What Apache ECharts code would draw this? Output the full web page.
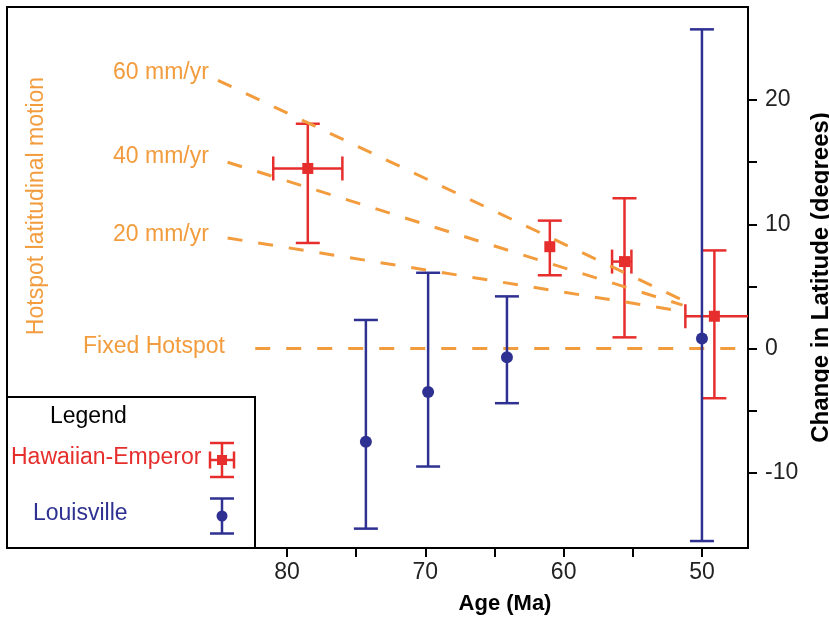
<!DOCTYPE html>
<html>
<head>
<meta charset="utf-8">
<script src="https://cdn.jsdelivr.net/npm/echarts@6/dist/echarts.min.js"></script>
<style>
  html, body { margin: 0; padding: 0; background: #fff; }
  #chart { width: 829px; height: 622px; }
</style>
</head>
<body>
<div id="chart"></div>
<script>
// Hawaiian-Emperor (red squares, x and y error bars)
const heAge = [78.5, 61.0, 55.6, 49.1];
const heLat = [14.5, 8.2, 7.0, 2.6];
const heAgeOld = [81.0, 61.0, 56.5, 51.2];
const heAgeYoung = [76.0, 61.0, 55.1, 46.0];
const heLatLow = [8.5, 5.9, 0.9, -4.0];
const heLatHigh = [18.1, 10.3, 12.1, 7.9];

// Louisville (blue circles, y error bars)
const lvAge = [74.3, 69.8, 64.1, 50.0];
const lvLat = [-7.5, -3.5, -0.7, 0.8];
const lvLatLow = [-14.5, -9.5, -4.4, -15.5];
const lvLatHigh = [2.3, 6.1, 4.2, 25.7];

// hotspot motion guide lines: [start age, start lat, end age, end lat]
const rateNames = ['60 mm/yr', '40 mm/yr', '20 mm/yr', 'Fixed Hotspot'];
const rateLines = [
  [85.0, 21.6, 51.4, 3.9],
  [84.3, 15.0, 51.4, 3.5],
  [84.3, 8.9, 51.4, 3.0],
  [82.3, 0, 46.67, 0]
];

const xTicks = [80, 75, 70, 65, 60, 55, 50];
const xLabels = [80, 70, 60, 50];
const yTicks = [-10, -5, 0, 5, 10, 15, 20];
const yLabels = [-10, 0, 10, 20];

const RED = '#E62E2D';
const BLUE = '#2E3192';
const ORANGE = '#F29C3D';
const FONT = '"Liberation Sans", Arial, sans-serif';

function errorBars(color, marker) {
  return function (params, api) {
    const cs = params.coordSys;
    const left = cs.x, right = cs.x + cs.width;
    const c = api.coord([api.value(0), api.value(1)]);
    const top = api.coord([api.value(0), api.value(5)])[1];
    const bot = api.coord([api.value(0), api.value(4)])[1];
    const cap = 12;
    const st = { stroke: color, lineWidth: 2.5 };
    const kids = [
      { type: 'line', shape: { x1: c[0], y1: top, x2: c[0], y2: bot }, style: st },
      { type: 'line', shape: { x1: c[0] - cap, y1: top, x2: c[0] + cap, y2: top }, style: st },
      { type: 'line', shape: { x1: c[0] - cap, y1: bot, x2: c[0] + cap, y2: bot }, style: st }
    ];
    const xOld = api.value(2), xYoung = api.value(3);
    if (xOld !== xYoung) {
      const xl = api.coord([xOld, api.value(1)])[0];
      const xr = api.coord([xYoung, api.value(1)])[0];
      kids.push({ type: 'line', shape: { x1: Math.max(xl, left), y1: c[1], x2: Math.min(xr, right), y2: c[1] }, style: st });
      if (xl >= left) kids.push({ type: 'line', shape: { x1: xl, y1: c[1] - cap, x2: xl, y2: c[1] + cap }, style: st });
      if (xr <= right) kids.push({ type: 'line', shape: { x1: xr, y1: c[1] - cap, x2: xr, y2: c[1] + cap }, style: st });
    }
    if (marker === 'square') {
      kids.push({ type: 'rect', shape: { x: c[0] - 5.5, y: c[1] - 5.5, width: 11, height: 11 }, style: { fill: color } });
    } else {
      kids.push({ type: 'circle', shape: { cx: c[0], cy: c[1], r: 6 }, style: { fill: color } });
    }
    return { type: 'group', children: kids };
  };
}

function text(str, x, y, color, opts) {
  return Object.assign({
    type: 'text', x: x, y: y, z: 20,
    style: {
      text: str, fill: color, font: '23px ' + FONT,
      textAlign: 'left', textVerticalAlign: 'middle'
    }
  }, opts || {});
}

function iconLines(cx, cy, color, withX) {
  const st = { stroke: color, lineWidth: 2.5 };
  const h = withX ? 17 : 17.5;
  const els = [
    { type: 'line', z: 21, shape: { x1: cx, y1: cy - h, x2: cx, y2: cy + h }, style: st },
    { type: 'line', z: 21, shape: { x1: cx - 12, y1: cy - h, x2: cx + 12, y2: cy - h }, style: st },
    { type: 'line', z: 21, shape: { x1: cx - 12, y1: cy + h, x2: cx + 12, y2: cy + h }, style: st }
  ];
  if (withX) {
    els.push({ type: 'line', z: 21, shape: { x1: cx - 12, y1: cy, x2: cx + 12, y2: cy }, style: st });
    els.push({ type: 'line', z: 21, shape: { x1: cx - 12, y1: cy - 8.5, x2: cx - 12, y2: cy + 8.5 }, style: st });
    els.push({ type: 'line', z: 21, shape: { x1: cx + 12, y1: cy - 8.5, x2: cx + 12, y2: cy + 8.5 }, style: st });
    els.push({ type: 'rect', z: 21, shape: { x: cx - 5, y: cy - 5, width: 10, height: 10 }, style: { fill: color } });
  } else {
    els.push({ type: 'circle', z: 21, shape: { cx: cx, cy: cy, r: 5.5 }, style: { fill: color } });
  }
  return els;
}

const chart = echarts.init(document.getElementById('chart'));

const lineSeries = rateLines.map(function (l, i) {
  return {
    name: rateNames[i],
    type: 'line',
    z: 3,
    symbol: 'none',
    silent: true,
    data: [[l[0], l[1]], [l[2], l[3]]],
    lineStyle: { color: ORANGE, width: 3, type: [15, 16] }
  };
});

chart.setOption({
  animation: false,
  grid: {
    left: 7, right: 81, top: 7, bottom: 74,
    outerBoundsMode: 'none',
    containLabel: false,
    show: true, borderColor: '#000', borderWidth: 2
  },
  xAxis: {
    type: 'value',
    inverse: true,
    min: 46.67,
    max: 100.25,
    axisLine: { onZero: false, lineStyle: { color: '#000', width: 2 } },
    axisTick: { customValues: xTicks, length: 9, lineStyle: { color: '#000', width: 2 } },
    axisLabel: { customValues: xLabels, margin: 13, color: '#222', fontSize: 23, fontFamily: FONT },
    splitLine: { show: false }
  },
  yAxis: {
    type: 'value',
    position: 'right',
    min: -16.06,
    max: 27.5,
    name: 'Change in Latitude (degrees)',
    nameLocation: 'middle',
    nameRotate: 90,
    nameGap: 51,
    nameTextStyle: { color: '#000', fontSize: 24, fontWeight: 'bold', fontFamily: FONT },
    axisLine: { onZero: false, lineStyle: { color: '#000', width: 2 } },
    axisTick: { customValues: yTicks, length: 9, lineStyle: { color: '#000', width: 2 } },
    axisLabel: { customValues: yLabels, margin: 17, color: '#222', fontSize: 23, fontFamily: FONT },
    splitLine: { show: false }
  },
  series: [
    {
      name: 'Hawaiian-Emperor',
      type: 'custom',
      z: 2,
      renderItem: errorBars(RED, 'square'),
      encode: { x: 0, y: 1 },
      data: heAge.map(function (a, i) {
        return [a, heLat[i], heAgeOld[i], heAgeYoung[i], heLatLow[i], heLatHigh[i]];
      })
    }
  ].concat(lineSeries).concat([
    {
      name: 'Louisville',
      type: 'custom',
      z: 4,
      renderItem: errorBars(BLUE, 'circle'),
      encode: { x: 0, y: 1 },
      data: lvAge.map(function (a, i) {
        return [a, lvLat[i], a, a, lvLatLow[i], lvLatHigh[i]];
      })
    }
  ]),
  graphic: [
    text('Age (Ma)', 505, 604, '#000', {
      style: { text: 'Age (Ma)', fill: '#000', font: 'bold 22px ' + FONT, textAlign: 'center', textVerticalAlign: 'middle' }
    }),
    text('Hotspot latitudinal motion', 37, 206, ORANGE, {
      rotation: Math.PI / 2,
      style: { text: 'Hotspot latitudinal motion', fill: ORANGE, font: '23px ' + FONT, textAlign: 'center', textVerticalAlign: 'middle' }
    }),
    text(rateNames[0], 113, 73, ORANGE),
    text(rateNames[1], 113, 157, ORANGE),
    text(rateNames[2], 113, 235, ORANGE),
    text(rateNames[3], 83, 347, ORANGE),
    {
      type: 'rect', z: 15,
      shape: { x: 7, y: 397, width: 248, height: 151 },
      style: { fill: '#fff', stroke: '#000', lineWidth: 2 }
    },
    text('Legend', 50, 417, '#000'),
    text('Hawaiian-Emperor', 11, 458, RED),
    text('Louisville', 33, 514, BLUE)
  ].concat(iconLines(222, 460, RED, true)).concat(iconLines(222, 516, BLUE, false))
});
</script>
</body>
</html>
